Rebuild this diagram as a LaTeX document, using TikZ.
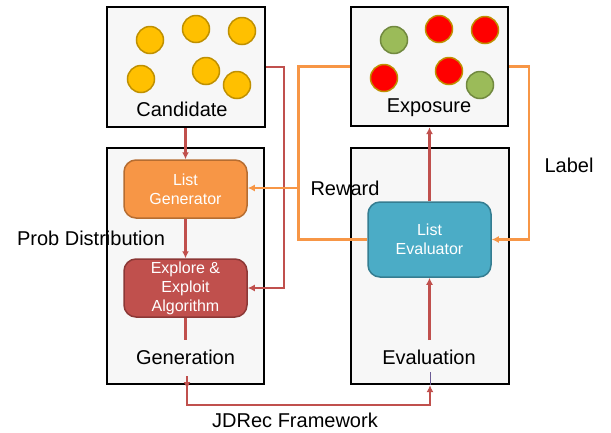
\documentclass[tikz,border=0pt]{standalone}
\usepackage{fontspec}
\setmainfont{Liberation Sans}
\usetikzlibrary{arrows.meta}
\definecolor{boxfill}{HTML}{F7F7F7}
\definecolor{ored}{HTML}{C0504D}
\definecolor{oredb}{HTML}{8C3836}
\definecolor{oorange}{HTML}{F79646}
\definecolor{oorangeb}{HTML}{B66D31}
\definecolor{ygold}{HTML}{FFC000}
\definecolor{ygoldb}{HTML}{BF9000}
\definecolor{lgreen}{HTML}{9BBB59}
\definecolor{lgreenb}{HTML}{71893F}
\definecolor{lteal}{HTML}{4BACC6}
\definecolor{ltealb}{HTML}{357D91}
\definecolor{rball}{HTML}{FF0000}
\definecolor{purp}{HTML}{6B5B95}
\tikzset{
  bigbox/.style={draw=black, line width=2.3pt, fill=boxfill, inner sep=0pt},
  inbox/.style={rounded corners=12pt, line width=1.5pt, inner sep=0pt, text=white,
     align=center, font=\fontsize{16}{19}\selectfont, minimum width=123pt},
  biglabel/.style={font=\fontsize{20}{24}\selectfont, inner sep=0pt},
  redline/.style={draw=ored, line width=2.3pt},
  orline/.style={draw=oorange, line width=2.3pt},
  tip/.style={-{Latex[length=7pt,width=7pt]}},
  yball/.style={circle, draw=ygoldb, fill=ygold, line width=1.5pt, minimum size=27pt, inner sep=0pt},
  gball/.style={circle, draw=lgreenb, fill=lgreen, line width=1.5pt, minimum size=27pt, inner sep=0pt},
  rballs/.style={circle, draw=ygoldb, fill=rball, line width=1.5pt, minimum size=27pt, inner sep=0pt},
}
\begin{document}
\begin{tikzpicture}[x=1pt,y=-1pt]
\useasboundingbox (0,0) rectangle (611,432);
% big boxes
\node[bigbox, minimum width=158pt, minimum height=120pt] (cand) at (186,67) {};
\node[bigbox, minimum width=157pt, minimum height=119pt] (expo) at (429.5,66.5) {};
\node[bigbox, minimum width=157pt, minimum height=236pt] (gen) at (185.5,266) {};
\node[bigbox, minimum width=158pt, minimum height=236pt] (eval) at (430,266) {};
% balls
\node[yball] (y1) at (150,40) {};
\node[yball] (y2) at (196,29) {};
\node[yball] (y3) at (242,31) {};
\node[yball] (y4) at (141,79) {};
\node[yball] (y5) at (206,71) {};
\node[yball] (y6) at (237,85) {};
\node[gball] (g1) at (394,40) {};
\node[rballs] (r1) at (439,29) {};
\node[rballs] (r2) at (485,30) {};
\node[rballs] (r3) at (384,78) {};
\node[rballs] (r4) at (449,71) {};
\node[gball] (g2) at (480,85) {};
% box titles
\node[biglabel] (candt) at (182,109) {Candidate};
\node[biglabel] (expot) at (429,108) {Exposure};
\node[biglabel] (gent) at (185.5,357) {Generation};
\node[biglabel] (evalt) at (429,357) {Evaluation};
% inner boxes
\node[inbox, fill=oorange, draw=oorangeb, minimum height=58pt] (lg) at (185.5,189) {List\\Generator};
\node[inbox, fill=ored, draw=oredb, minimum height=58pt] (ex) at (185.5,288) {Explore \&\\Exploit\\Algorithm};
\node[inbox, fill=lteal, draw=ltealb, minimum height=75pt] (le) at (429.5,239.5) {List\\Evaluator};
% coordinates
\coordinate (ra) at (284,67);
\coordinate (rb) at (284,288);
\coordinate (exend) at (185.5,340);
\coordinate (oa) at (298.5,66.5);
\coordinate (ob) at (298.5,239.5);
\coordinate (oc) at (298.5,188);
\coordinate (od) at (529,66.5);
\coordinate (oe) at (529,239.5);
\coordinate (ea) at (429.5,340);
\coordinate (ba) at (187,376);
\coordinate (bb) at (187,389);
\coordinate (bc) at (187,386);
\coordinate (bd) at (187,405);
\coordinate (be) at (430,405);
\coordinate (pa) at (430,372);
% red connectors
\draw[redline, tip] (lg.north |- cand.south) -- (lg.north);
\draw[redline, tip] (lg.south) -- (ex.north);
\draw[redline] (ex.south) -- (exend);
\draw[redline, tip] (cand.east |- ra) -- (ra) -- (rb) -- (ex.east);
\draw[redline, tip] (le.north) -- (le.north |- expo.south);
\draw[redline, tip] (ea) -- (le.south);
\draw[redline, tip] (ba) -- (bb);
\draw[redline, tip] (bc) -- (bd) -- (be) -- (be |- eval.south);
\draw[purp, line width=0.8pt] (pa) -- (eval.south);
% orange connectors
\draw[orline] (expo.west) -- (oa) -- (ob) -- (le.west);
\draw[orline, tip] (oc) -- (lg.east |- oc);
\draw[orline, tip] (expo.east) -- (od) -- (oe) -- (le.east);
% free labels
\node[biglabel] (label) at (569,165) {Label};
\node[biglabel] (reward) at (345,188) {Reward};
\node[biglabel] (prob) at (91,238) {Prob Distribution};
\node[biglabel] (jd) at (295,420) {JDRec Framework};
\end{tikzpicture}
\end{document}
